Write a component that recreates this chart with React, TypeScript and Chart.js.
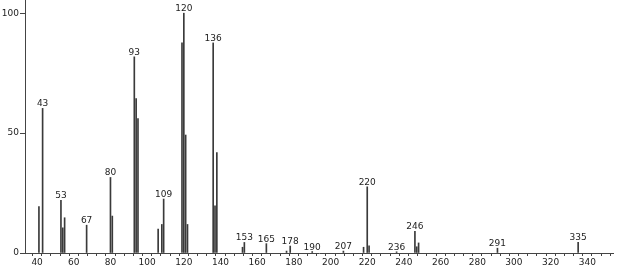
import React, { useEffect, useRef } from "react";
import { Chart, registerables } from "chart.js";

Chart.register(...registerables);

const mz = [41, 43, 53, 54, 55, 67, 80, 81, 93, 94, 95, 106, 108, 109, 119, 120, 121, 122, 136, 137, 138, 152, 153, 165, 176, 178, 190, 207, 218, 220, 221, 236, 246, 247, 248, 291, 335];
const intensity = [19.4, 60.3, 22, 10.5, 14.7, 11.6, 31.5, 15.4, 81.8, 64.4, 56.1, 10, 11.9, 22.5, 87.6, 100, 49.2, 11.9, 87.6, 19.7, 41.9, 2.4, 4.4, 3.9, 0.8, 2.9, 0.6, 0.8, 2.4, 27.6, 3, 0.5, 9, 2.6, 4.2, 2, 4.4];
const labeledMz = [43, 53, 67, 80, 93, 109, 120, 136, 153, 165, 178, 190, 207, 220, 236, 246, 291, 335];
const xTickValues: number[] = [];
for (let v = 35; v <= 350; v += 5) xTickValues.push(v);
const yTickValues = [0, 50, 100];

const FONT = "DejaVu Sans";
const TEXT_COLOR = "#222";
const BAR_COLOR = "#3a3a3a";

const peakLabelPlugin = {
  id: "peakLabels",
  afterDatasetsDraw(chart: any) {
    const { ctx, scales } = chart;
    ctx.save();
    ctx.font = `9px "${FONT}"`;
    ctx.fillStyle = TEXT_COLOR;
    ctx.textAlign = "center";
    ctx.textBaseline = "alphabetic";
    labeledMz.forEach((m) => {
      const i = mz.indexOf(m);
      if (i < 0) return;
      const x = scales.x.getPixelForValue(m);
      const y = scales.y.getPixelForValue(intensity[i]);
      ctx.fillText(String(m), x, y - 2);
    });
    ctx.restore();
  },
};

export default function App() {
  const ref = useRef<HTMLCanvasElement>(null);
  useEffect(() => {
    if (!ref.current) return;
    const chart = new Chart(ref.current, {
      type: "bar",
      data: {
        datasets: [
          {
            data: mz.map((m, i) => ({ x: m, y: intensity[i] })),
            backgroundColor: BAR_COLOR,
            borderWidth: 0,
            barThickness: 1,
          } as any,
        ],
      },
      options: {
        animation: false,
        responsive: false,
        events: [],
        layout: { padding: { top: 0, right: 6, left: 0, bottom: 0 } },
        plugins: { legend: { display: false }, tooltip: { enabled: false } },
        scales: {
          x: {
            type: "linear",
            min: 33.4,
            max: 354,
            offset: false,
            afterBuildTicks: (axis: any) => {
              axis.ticks = xTickValues.map((v) => ({ value: v }));
            },
            afterFit: (axis: any) => {
              axis.height = 17;
              axis.paddingLeft = 0;
              axis.paddingRight = 0;
            },
            grid: { drawOnChartArea: false, drawTicks: true, tickLength: 3, color: "#444" },
            border: { display: true, color: "#444" },
            ticks: {
              autoSkip: false,
              maxRotation: 0,
              padding: 1,
              color: TEXT_COLOR,
              font: { family: FONT, size: 9 },
              callback: (v: any) => (Number(v) % 20 === 0 ? String(v) : ""),
            },
          },
          y: {
            min: 0,
            max: 105.5,
            afterBuildTicks: (axis: any) => {
              axis.ticks = yTickValues.map((v) => ({ value: v }));
            },
            afterFit: (axis: any) => {
              axis.width = 25;
              axis.paddingTop = 0;
              axis.paddingBottom = 0;
            },
            grid: { drawOnChartArea: false, drawTicks: true, tickLength: 5, color: "#444" },
            border: { display: true, color: "#444" },
            ticks: {
              padding: 1,
              color: TEXT_COLOR,
              font: { family: FONT, size: 9 },
              callback: (v: any) => String(v),
            },
          },
        },
      },
      plugins: [peakLabelPlugin],
    });
    return () => chart.destroy();
  }, []);
  return (
    <div style={{ position: "absolute", left: 0, top: 0, width: 619, height: 270, background: "#fff" }}>
      <canvas ref={ref} width={619} height={270} style={{ display: "block" }} />
    </div>
  );
}
